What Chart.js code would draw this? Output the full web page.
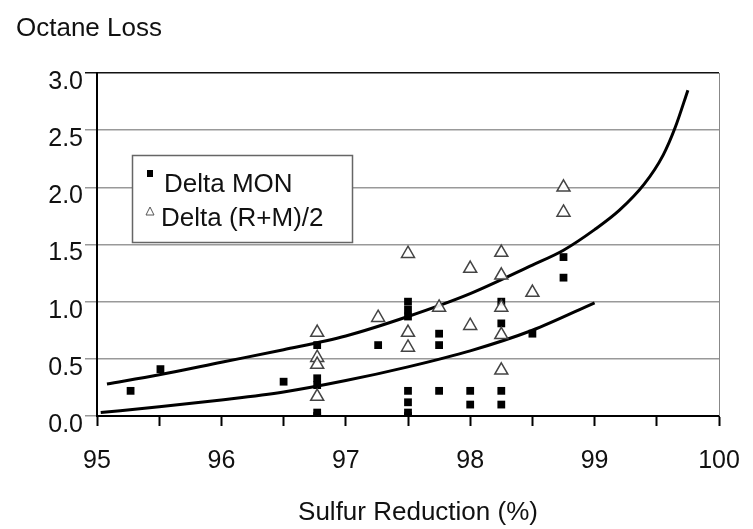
<!DOCTYPE html>
<html>
<head>
<meta charset="utf-8">
<script src="https://cdn.jsdelivr.net/npm/chart.js@4/dist/chart.umd.min.js"></script>
<style>
  html, body { margin: 0; padding: 0; background: #fff; }
  canvas { display: block; }
</style>
</head>
<body>
<canvas id="myChart" width="753" height="529"></canvas>
<script>
// Delta MON (filled squares)
var monX = [95.27, 95.51, 96.5, 96.77, 96.77, 96.77, 96.77, 96.77, 97.26,
            97.5, 97.5, 97.5, 97.5, 97.5, 97.5, 97.5,
            97.75, 97.75, 97.75, 98.0, 98.0,
            98.25, 98.25, 98.25, 98.25, 98.5, 98.75, 98.75];
var monY = [0.22, 0.41, 0.30, 0.0, 0.03, 0.27, 0.33, 0.62, 0.62,
            1.0, 0.93, 0.87, 0.22, 0.12, 0.03, 0.0,
            0.72, 0.62, 0.22, 0.22, 0.10,
            1.0, 0.81, 0.22, 0.10, 0.72, 1.39, 1.21];

// Delta (R+M)/2 (open triangles)
var rmX = [96.77, 96.77, 96.77, 96.77, 97.26, 97.5, 97.5, 97.5, 97.75,
           98.0, 98.0, 98.25, 98.25, 98.25, 98.25, 98.25, 98.5, 98.75, 98.75];
var rmY = [0.73, 0.51, 0.45, 0.17, 0.86, 1.42, 0.73, 0.60, 0.95,
           1.29, 0.79, 1.43, 1.23, 0.95, 0.71, 0.40, 1.08, 2.0, 1.78];

// fitted curves
var upperX = [95.08, 95.5, 96.0, 96.5, 97.0, 97.5, 98.0, 98.5, 98.75, 99.0, 99.2, 99.4, 99.55, 99.65, 99.75];
var upperY = [0.28, 0.36, 0.47, 0.58, 0.70, 0.87, 1.07, 1.32, 1.45, 1.63, 1.80, 2.03, 2.28, 2.53, 2.85];
var lowerX = [95.03, 95.5, 96.0, 96.5, 97.0, 97.5, 98.0, 98.5, 99.0];
var lowerY = [0.03, 0.08, 0.14, 0.21, 0.31, 0.43, 0.57, 0.75, 0.99];

var xTicks = [95, 96, 97, 98, 99, 100];
var yTicks = [0.0, 0.5, 1.0, 1.5, 2.0, 2.5, 3.0];

function pts(xs, ys) {
    var out = [];
    for (var i = 0; i < xs.length; i++) out.push({x: xs[i], y: ys[i]});
    return out;
}

var FONT = "'Liberation Sans', Arial, sans-serif";

var extras = {
    id: 'extras',
    afterDraw: function(chart) {
        var ctx = chart.ctx;
        var a = chart.chartArea;
        ctx.save();
        // right border
        ctx.strokeStyle = '#888';
        ctx.lineWidth = 1;
        ctx.beginPath();
        ctx.moveTo(a.right + 0.5, a.top);
        ctx.lineTo(a.right + 0.5, a.bottom);
        ctx.stroke();

        // axis titles
        ctx.fillStyle = '#111';
        ctx.font = '26px ' + FONT;
        ctx.textBaseline = 'alphabetic';
        ctx.textAlign = 'left';
        ctx.fillText('Octane Loss', 16, 36);
        ctx.textAlign = 'center';
        ctx.fillText('Sulfur Reduction (%)', 418, 520);

        // legend box
        ctx.fillStyle = '#fff';
        ctx.fillRect(132, 155, 220, 87);
        ctx.strokeStyle = '#666';
        ctx.lineWidth = 1.5;
        ctx.strokeRect(132.5, 155.5, 220, 87);
        ctx.fillStyle = '#000';
        ctx.fillRect(147, 170, 6, 7);
        ctx.strokeStyle = '#555';
        ctx.lineWidth = 1;
        ctx.beginPath();
        ctx.moveTo(150, 207);
        ctx.lineTo(154, 215);
        ctx.lineTo(146, 215);
        ctx.closePath();
        ctx.stroke();
        ctx.fillStyle = '#111';
        ctx.textAlign = 'left';
        ctx.font = '26px ' + FONT;
        ctx.fillText('Delta MON', 164, 192);
        ctx.fillText('Delta (R+M)/2', 161, 226);
        ctx.restore();
    }
};

var ctx = document.getElementById('myChart').getContext('2d');
var myChart = new Chart(ctx, {
    type: 'scatter',
    data: {
        datasets: [
            {
                label: 'upper fit',
                data: pts(upperX, upperY),
                showLine: true,
                borderColor: '#000',
                borderWidth: 3,
                pointRadius: 0,
                cubicInterpolationMode: 'monotone',
                order: 3
            },
            {
                label: 'lower fit',
                data: pts(lowerX, lowerY),
                showLine: true,
                borderColor: '#000',
                borderWidth: 3,
                pointRadius: 0,
                cubicInterpolationMode: 'monotone',
                order: 3
            },
            {
                label: 'Delta MON',
                data: pts(monX, monY),
                pointStyle: 'rect',
                pointRadius: 5.5,
                backgroundColor: '#000',
                borderColor: '#000',
                borderWidth: 0,
                order: 2
            },
            {
                label: 'Delta (R+M)/2',
                data: pts(rmX, rmY),
                pointStyle: 'triangle',
                pointRadius: 7.5,
                backgroundColor: 'rgba(255,255,255,0.9)',
                borderColor: '#444',
                borderWidth: 1.5,
                order: 1
            }
        ]
    },
    options: {
        responsive: false,
        animation: false,
        layout: { padding: { top: 73, right: 34, left: 0, bottom: 0 } },
        scales: {
            x: {
                type: 'linear',
                min: 95,
                max: 100,
                afterFit: function(s) {
                    s.height = 113;
                    s.paddingRight = 0;
                    s.paddingLeft = 0;
                },
                ticks: {
                    stepSize: 0.5,
                    autoSkip: false,
                    maxRotation: 0,
                    padding: 20,
                    color: '#111',
                    font: { family: FONT, size: 25 },
                    callback: function(v) {
                        return xTicks.indexOf(v) >= 0 ? String(v) : '';
                    }
                },
                grid: {
                    drawOnChartArea: false,
                    drawTicks: true,
                    tickLength: 10,
                    tickWidth: 2,
                    tickColor: '#000'
                },
                border: { color: '#000', width: 2 }
            },
            y: {
                min: 0,
                max: 3,
                afterFit: function(s) { s.width = 97; },
                afterBuildTicks: function(s) {
                    s.ticks = yTicks.map(function(v) { return {value: v}; });
                },
                ticks: {
                    padding: 2,
                    labelOffset: 9,
                    color: '#111',
                    font: { family: FONT, size: 25 },
                    callback: function(v) { return v.toFixed(1); }
                },
                grid: {
                    tickLength: 12,
                    lineWidth: 1.5,
                    color: function(c) { return c.tick && c.tick.value === 3 ? '#111' : '#999'; }
                },
                border: { color: '#000', width: 2 }
            }
        },
        plugins: {
            legend: { display: false },
            tooltip: { enabled: false }
        }
    },
    plugins: [extras]
});
</script>
</body>
</html>
